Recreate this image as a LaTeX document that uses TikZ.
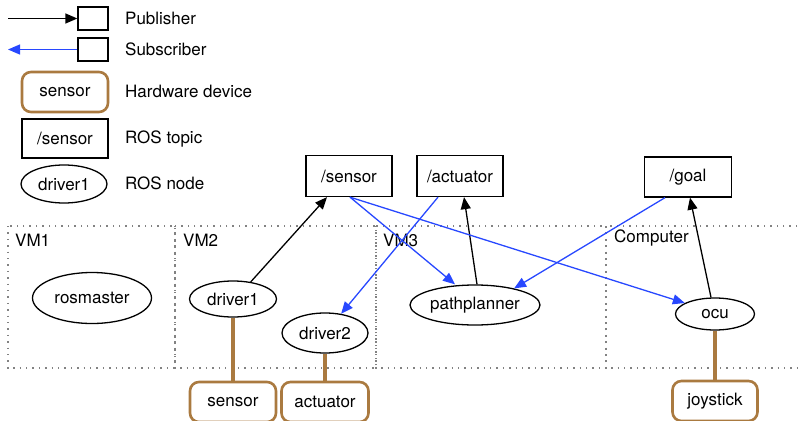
\documentclass[tikz,border=0pt]{standalone}
\usepackage{fontspec}
\setmainfont{TeX Gyre Heros}
\usetikzlibrary{arrows.meta,shapes.geometric}
\definecolor{subblue}{RGB}{40,72,255}
\definecolor{hwbrown}{RGB}{170,122,64}
\definecolor{vmgrey}{RGB}{130,130,130}
\tikzset{
  every node/.style={font=\fontsize{17}{20}\selectfont},
  topic/.style={draw,line width=1.3pt,inner sep=0pt,minimum width=86pt,minimum height=41pt},
  rosnode/.style={draw,line width=1.3pt,ellipse,inner sep=0pt,minimum width=86pt,minimum height=38pt},
  hw/.style={draw=hwbrown,line width=2.6pt,rounded corners=9pt,inner sep=0pt,minimum width=86pt,minimum height=40pt},
  pub/.style={-{Triangle[length=12pt,width=10pt]},line width=1.3pt},
  sub/.style={pub,color=subblue},
  wire/.style={hwbrown,line width=3.2pt},
  vm/.style={vmgrey,line width=1.4pt,dash pattern=on 1.4pt off 5pt},
  caption/.style={anchor=west,inner sep=0pt}
}

\begin{document}
\begin{tikzpicture}[x=1pt,y=-1pt]
  \useasboundingbox (0,0) rectangle (802,420);

  % legend
  \node[topic,minimum width=30pt,minimum height=23pt] (pubbox) at (93,18.5) {};
  \coordinate (pubstart) at (8,18.5);
  \draw[pub] (pubstart) -- (pubbox);
  \node[caption] (publbl) at (125,18.5) {Publisher};
  \node[topic,minimum width=30pt,minimum height=23pt] (subbox) at (93,49.5) {};
  \coordinate (subend) at (8,49.5);
  \draw[sub] (subbox) -- (subend);
  \node[caption] (sublbl) at (125,49.5) {Subscriber};
  \node[hw] (hwkey) at (65,92) {sensor};
  \node[caption] (hwlbl) at (125,91) {Hardware device};
  \node[topic,minimum height=39pt] (topickey) at (65,138.5) {/sensor};
  \node[caption] (topiclbl) at (125,139) {ROS topic};
  \node[rosnode] (nodekey) at (64,184) {driver1};
  \node[caption] (nodelbl) at (125,183) {ROS node};

  % machines
  \draw[vm] (8,226) rectangle (175,368);
  \draw[vm] (175,226) rectangle (376,368);
  \draw[vm] (376,226) rectangle (606,368);
  \draw[vm] (606,226) rectangle (806,368);
  \node[caption] (vm1) at (15,240) {VM1};
  \node[caption] (vm2) at (183,240) {VM2};
  \node[caption] (vm3) at (383,240) {VM3};
  \node[caption] (comp) at (614,238) {Computer};

  % topics
  \node[topic] (sensortopic) at (349,176) {/sensor};
  \node[topic] (actuatortopic) at (460,176) {/actuator};
  \node[topic,minimum width=87pt,minimum height=40pt] (goaltopic) at (688,177) {/goal};

  % ros nodes
  \node[rosnode,minimum width=119pt,minimum height=51pt] (rosmaster) at (92,298) {rosmaster};
  \node[rosnode,minimum width=87pt,minimum height=36pt] (driver1) at (233,299) {driver1};
  \node[rosnode,minimum height=40pt] (driver2) at (325,333) {driver2};
  \node[rosnode,minimum width=130pt,minimum height=40pt] (pathplanner) at (475,305) {pathplanner};
  \node[rosnode,minimum width=79pt,minimum height=32pt] (ocu) at (715,314) {ocu};

  % hardware
  \node[hw] (sensorhw) at (233,402) {sensor};
  \node[hw,minimum width=87pt] (actuatorhw) at (325,402) {actuator};
  \node[hw,minimum width=85pt] (joystick) at (715,401) {joystick};
  \draw[wire] (driver1) -- (sensorhw);
  \draw[wire] (driver2) -- (actuatorhw);
  \draw[wire] (ocu) -- (joystick);

  % publishers
  \draw[pub] (driver1.44) -- ([xshift=-22pt]sensortopic.south);
  \draw[pub] ([xshift=2pt]pathplanner.north) -- ([xshift=4pt]actuatortopic.south);
  \draw[pub] ([xshift=-4pt]ocu.north) -- ([xshift=2pt]goaltopic.south);

  % subscribers
  \draw[sub] ([xshift=1pt]sensortopic.south) -- ([xshift=-20pt]pathplanner.north);
  \draw[sub] ([xshift=1pt]sensortopic.south) -- (ocu.160);
  \draw[sub] ([xshift=-22pt]actuatortopic.south) -- (driver2.50);
  \draw[sub] ([xshift=-23pt]goaltopic.south) -- (pathplanner.23);
\end{tikzpicture}
\end{document}
